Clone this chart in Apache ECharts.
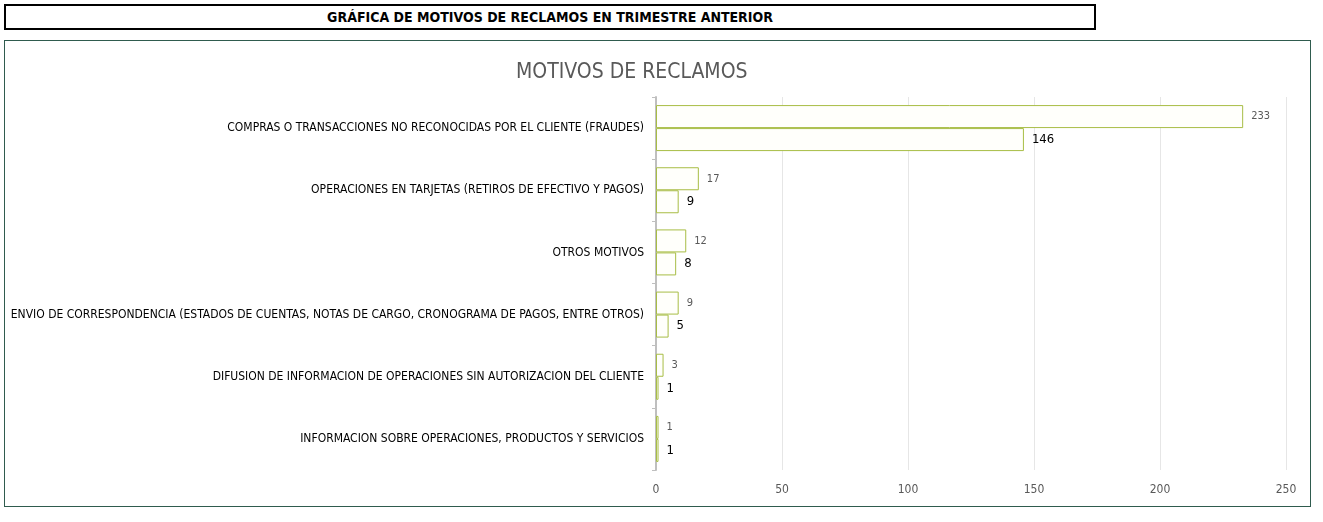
<!DOCTYPE html>
<html>
<head>
<meta charset="utf-8">
<script src="https://cdn.jsdelivr.net/npm/echarts@6/dist/echarts.min.js"></script>
<style>
body { margin: 0; background: #fff; font-family: "Liberation Sans Narrow", "DejaVu Sans Condensed", sans-serif; }
#head {
	position: absolute; left: 4px; top: 4px; width: 1088px; height: 22px;
	border: 2px solid #000; text-align: center; font-weight: bold; font-size: 14px; line-height: 23px;
}
#frame {
	position: absolute; left: 4px; top: 40px; width: 1305px; height: 465px;
	border: 1px solid #2f5b4e;
}
#chart { width: 1305px; height: 465px; }
</style>
</head>
<body>
<div id="head">GRÁFICA DE MOTIVOS DE RECLAMOS EN TRIMESTRE ANTERIOR</div>
<div id="frame"><div id="chart"></div></div>
<script>
var categories = [
	'COMPRAS O TRANSACCIONES NO RECONOCIDAS POR EL CLIENTE (FRAUDES)',
	'OPERACIONES EN TARJETAS (RETIROS DE EFECTIVO Y PAGOS)',
	'OTROS MOTIVOS',
	'ENVIO DE CORRESPONDENCIA (ESTADOS DE CUENTAS, NOTAS DE CARGO, CRONOGRAMA DE PAGOS, ENTRE OTROS)',
	'DIFUSION DE INFORMACION DE OPERACIONES SIN AUTORIZACION DEL CLIENTE',
	'INFORMACION SOBRE OPERACIONES, PRODUCTOS Y SERVICIOS'
];
var valuesA = [233, 17, 12, 9, 3, 1];
var valuesB = [146, 9, 8, 5, 1, 1];
var xTicks = [0, 50, 100, 150, 200, 250];

var font = '"Liberation Sans Narrow", "DejaVu Sans Condensed", sans-serif';
var myChart = echarts.init(document.getElementById('chart'));
var option = {
	animation: false,
	title: {
		text: 'MOTIVOS DE RECLAMOS',
		left: 506,
		top: 16,
		textStyle: { color: '#595959', fontSize: 21, fontWeight: 'normal', fontFamily: font }
	},
	grid: { left: 651, right: 24, top: 56, bottom: 36 },
	xAxis: {
		type: 'value',
		min: xTicks[0],
		max: xTicks[xTicks.length - 1],
		interval: 50,
		axisLine: { show: false },
		axisTick: { show: false },
		axisLabel: { color: '#595959', fontSize: 12, fontFamily: font, margin: 14 },
		splitLine: { lineStyle: { color: '#e6e6e6', width: 1 } }
	},
	yAxis: {
		type: 'category',
		inverse: true,
		data: categories,
		axisLine: { lineStyle: { color: '#bfbfbf', width: 2 } },
		axisTick: { show: true, length: 4, lineStyle: { color: '#bfbfbf' } },
		axisLabel: { color: '#000', fontSize: 12, fontFamily: font, margin: 12 }
	},
	series: [{
		name: 'A',
		type: 'bar',
		data: valuesA,
		barGap: '0%',
		barCategoryGap: '26%',
		itemStyle: { color: '#fffffb', borderColor: '#a8bd45', borderWidth: 1 },
		label: { show: true, position: 'right', distance: 8, color: '#595959', fontSize: 11, fontFamily: font }
	}, {
		name: 'B',
		type: 'bar',
		data: valuesB,
		barGap: '0%',
		barCategoryGap: '26%',
		itemStyle: { color: '#fffffb', borderColor: '#a8bd45', borderWidth: 1 },
		label: { show: true, position: 'right', distance: 8, color: '#000', fontSize: 13, fontFamily: font }
	}]
};
myChart.setOption(option);
</script>
</body>
</html>
